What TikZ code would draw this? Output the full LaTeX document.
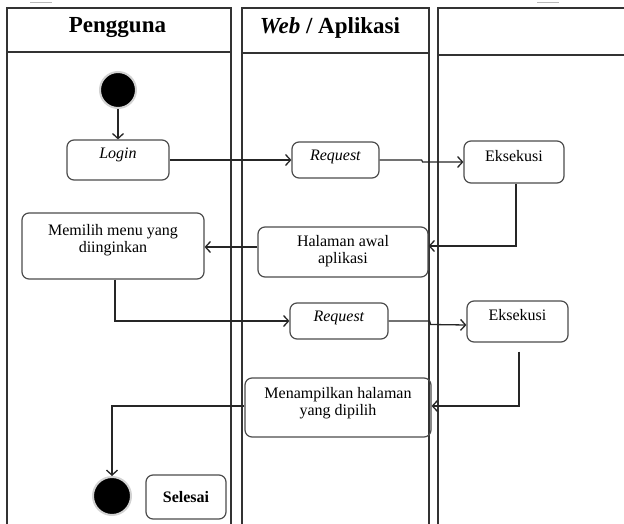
\documentclass[tikz,border=0pt]{standalone}
\usepackage{fontspec}
\setmainfont{Liberation Serif}
\usetikzlibrary{arrows.meta}
\begin{document}
\begin{tikzpicture}[x=1pt,y=-1pt,
  lane/.style={draw=black!80,line width=1.2pt},
  box/.style={draw=black!70,line width=1.2pt,rounded corners=7pt,inner sep=0pt},
  txt/.style={inner sep=0pt,align=center,font=\fontsize{16}{17}\selectfont},
  head/.style={inner sep=0pt,font=\fontsize{23}{25}\selectfont\bfseries},
  dot/.style={circle,fill=black,draw=gray!35,line width=2pt,inner sep=0pt},
  arr/.style={draw=black!85,line width=1.3pt,-{Straight Barb[length=5pt,width=11pt]}},
  flow/.style={draw=black!85,line width=1.3pt}]
\useasboundingbox (0,0) rectangle (624,524);
% top marks
\draw[gray!55,line width=1pt] (30,3) -- (52,3);
\draw[gray!55,line width=1pt] (537,3) -- (559,3);
% lanes
\draw[lane] (7,524) -- (7,8) -- (231,8) -- (231,524);
\draw[lane] (7,52) -- (231,52);
\draw[lane] (242,524) -- (242,8) -- (429,8) -- (429,524);
\draw[lane] (242,53) -- (429,53);
\draw[lane] (438,524) -- (438,8) -- (624,8);
\draw[lane] (438,55) -- (624,55);
\node[head] (h1) at (117.5,28) {Pengguna};
\node[head] (h2) at (330,28) {\textit{Web} / Aplikasi};
% nodes
\node[dot,minimum size=36pt] (start) at (118,90) {};
\node[box,minimum width=102pt,minimum height=40pt] (login) at (118,160) {};
\node[txt] (logint) at (118,155) {\textit{Login}};
\node[box,minimum width=87pt,minimum height=36pt] (req1) at (335.5,160) {};
\node[txt] (req1t) at (335.5,157) {\textit{Request}};
\node[box,minimum width=100pt,minimum height=42pt] (eks1) at (514,162) {};
\node[txt] (eks1t) at (514,156) {Eksekusi};
\node[box,minimum width=170pt,minimum height=50pt] (hal) at (343,252) {};
\node[txt] (halt) at (343,251) {Halaman awal\\aplikasi};
\node[box,minimum width=182pt,minimum height=66pt] (mem) at (113,246) {};
\node[txt] (memt) at (113,240) {Memilih menu yang\\diinginkan};
\node[box,minimum width=98pt,minimum height=36pt] (req2) at (339,321) {};
\node[txt] (req2t) at (339,318) {\textit{Request}};
\node[box,minimum width=101pt,minimum height=41pt] (eks2) at (517.5,321.5) {};
\node[txt] (eks2t) at (517.5,315) {Eksekusi};
\node[box,minimum width=186pt,minimum height=59pt] (men) at (338,407.5) {};
\node[txt] (ment) at (338,403) {Menampilkan halaman\\yang dipilih};
\node[dot,minimum size=38pt] (end) at (112,496) {};
\node[box,minimum width=80pt,minimum height=44pt] (sel) at (186,497) {};
\node[txt,font=\fontsize{16}{17}\selectfont\bfseries] (selt) at (186,497) {Selesai};
% connectors
\draw[arr] (start) -- (login);
\draw[arr] (login.east) -- (req1.west);
\draw[arr] (req1.east) -- ([xshift=42pt]req1.east) -- ([xshift=43pt,yshift=-2pt]req1.east) -- (eks1.west);
\draw[arr] ([xshift=2pt]eks1.south) |- ([yshift=6pt]hal.east);
\draw[arr] ([yshift=5pt]hal.west) -- ([yshift=5pt]hal.west -| mem.east);
\draw[arr] ([xshift=2pt]mem.south) |- (req2.west);
\draw[arr] (req2.east) -- ([xshift=41pt]req2.east) -- ([xshift=42pt,yshift=-3.5pt]req2.east) -- ([yshift=-3.5pt]eks2.west);
\draw[arr] ([xshift=1.5pt,yshift=-9pt]eks2.south) |- ([yshift=1.5pt]men.east);
\draw[arr] ([yshift=1.5pt]men.west) -| (end);
\end{tikzpicture}
\end{document}
